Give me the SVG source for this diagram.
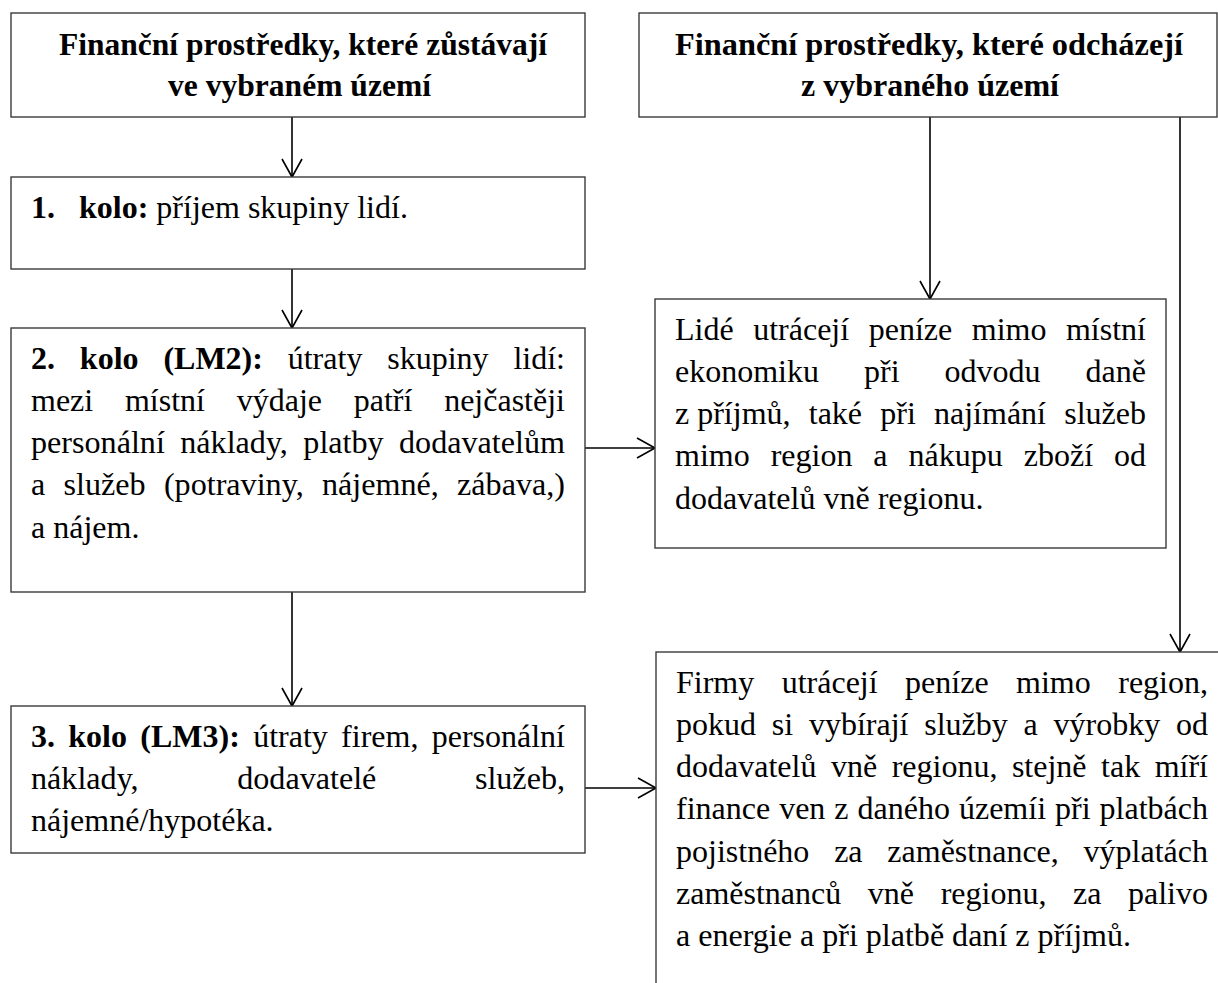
<svg xmlns="http://www.w3.org/2000/svg" width="1218" height="983" viewBox="0 0 1218 983">
  <style>
    .box { fill: #fff; stroke: #3a3a3a; stroke-width: 1.4; }
    .con { fill: none; stroke: #000; stroke-width: 1.6; marker-end: url(#arr); }
    .t { font-family: "Liberation Serif", "Times New Roman", serif; font-size: 32px; fill: #000; }
    .b { font-weight: bold; }
  </style>
  <defs>
    <marker id="arr" markerUnits="userSpaceOnUse" markerWidth="24" markerHeight="24" viewBox="-20 -12 24 24" refX="0" refY="0" orient="auto">
      <path d="M-18,-10 L0,0 L-18,10" fill="none" stroke="#000" stroke-width="1.6"/>
    </marker>
  </defs>
  <rect width="1218" height="983" fill="#fff"/>

  <!-- connectors -->
  <g id="connectors">
    <line class="con" x1="292" y1="117" x2="292" y2="177"/>
    <line class="con" x1="292" y1="269" x2="292" y2="328"/>
    <line class="con" x1="292" y1="592" x2="292" y2="706"/>
    <line class="con" x1="930" y1="117" x2="930" y2="299"/>
    <line class="con" x1="1180" y1="117" x2="1180" y2="652"/>
    <line class="con" x1="585" y1="448" x2="655" y2="448"/>
    <line class="con" x1="585" y1="788" x2="656" y2="788"/>
  </g>

  <!-- money staying in the area -->
  <g id="stay">
    <rect class="box" x="11" y="13" width="574" height="104"/>
    <text class="t b" x="59" y="55" textLength="488" lengthAdjust="spacingAndGlyphs">Finanční prostředky, které zůstávají</text>
    <text class="t b" x="168" y="96" textLength="263" lengthAdjust="spacingAndGlyphs">ve vybraném území</text>
  </g>

  <!-- money leaving the area -->
  <g id="leave">
    <rect class="box" x="639" y="13" width="578" height="104"/>
    <text class="t b" x="675" y="55" textLength="508" lengthAdjust="spacingAndGlyphs">Finanční prostředky, které odcházejí</text>
    <text class="t b" x="801" y="96" textLength="258" lengthAdjust="spacingAndGlyphs">z vybraného území</text>
  </g>

  <!-- round 1 -->
  <g id="round1">
    <rect class="box" x="11" y="177" width="574" height="92"/>
    <text class="t b" x="31" y="217.5">1.</text>
    <text class="t" x="79" y="217.5" textLength="328.9" lengthAdjust="spacingAndGlyphs"><tspan class="b">kolo:</tspan> příjem skupiny lidí.</text>
  </g>

  <!-- round 2 -->
  <g id="round2">
    <rect class="box" x="11" y="328" width="574" height="264"/>
    <text class="t" x="31" y="368.5" textLength="534" lengthAdjust="spacingAndGlyphs" word-spacing="16.84"><tspan class="b">2. kolo (LM2):</tspan> útraty skupiny lidí:</text>
    <text class="t" x="31" y="410.8" textLength="534" lengthAdjust="spacingAndGlyphs" word-spacing="23.73">mezi místní výdaje patří nejčastěji</text>
    <text class="t" x="31" y="453.1" textLength="534" lengthAdjust="spacingAndGlyphs" word-spacing="7.36">personální náklady, platby dodavatelům</text>
    <text class="t" x="31" y="495.4" textLength="534" lengthAdjust="spacingAndGlyphs" word-spacing="10.2">a služeb (potraviny, nájemné, zábava,)</text>
    <text class="t" x="31" y="537.7" textLength="108.4" lengthAdjust="spacingAndGlyphs">a nájem.</text>
  </g>

  <!-- round 3 -->
  <g id="round3">
    <rect class="box" x="11" y="706" width="574" height="147"/>
    <text class="t" x="31" y="746.5" textLength="534" lengthAdjust="spacingAndGlyphs" word-spacing="5.3"><tspan class="b">3. kolo (LM3):</tspan> útraty firem, personální</text>
    <text class="t" x="31" y="788.8" textLength="534" lengthAdjust="spacingAndGlyphs" word-spacing="90.15">náklady, dodavatelé služeb,</text>
    <text class="t" x="31" y="831.1" textLength="242.6" lengthAdjust="spacingAndGlyphs">nájemné/hypotéka.</text>
  </g>

  <!-- people spending outside -->
  <g id="people">
    <rect class="box" x="655" y="299" width="511" height="249"/>
    <text class="t" x="675" y="339.5" textLength="471" lengthAdjust="spacingAndGlyphs" word-spacing="11.53">Lidé utrácejí peníze mimo místní</text>
    <text class="t" x="675" y="381.8" textLength="471" lengthAdjust="spacingAndGlyphs" word-spacing="37">ekonomiku při odvodu daně</text>
    <text class="t" x="675" y="424.1" textLength="471" lengthAdjust="spacingAndGlyphs" word-spacing="10.2"><tspan word-spacing="0">z příjmů,</tspan> také při najímání služeb</text>
    <text class="t" x="675" y="466.4" textLength="471" lengthAdjust="spacingAndGlyphs" word-spacing="12.96">mimo region a nákupu zboží od</text>
    <text class="t" x="675" y="508.7" textLength="308.4" lengthAdjust="spacingAndGlyphs">dodavatelů vně regionu.</text>
  </g>

  <!-- firms spending outside -->
  <g id="firms">
    <rect class="box" x="656" y="652" width="590" height="360"/>
    <text class="t" x="676" y="692.5" textLength="532" lengthAdjust="spacingAndGlyphs" word-spacing="19.45">Firmy utrácejí peníze mimo region,</text>
    <text class="t" x="676" y="734.8" textLength="532" lengthAdjust="spacingAndGlyphs" word-spacing="7.78">pokud si vybírají služby a výrobky od</text>
    <text class="t" x="676" y="777.1" textLength="532" lengthAdjust="spacingAndGlyphs" word-spacing="6.5">dodavatelů vně regionu, stejně tak míří</text>
    <text class="t" x="676" y="819.4" textLength="532" lengthAdjust="spacingAndGlyphs" word-spacing="0.98">finance ven z daného územíi při platbách</text>
    <text class="t" x="676" y="861.7" textLength="532" lengthAdjust="spacingAndGlyphs" word-spacing="16.77">pojistného za zaměstnance, výplatách</text>
    <text class="t" x="676" y="904" textLength="532" lengthAdjust="spacingAndGlyphs" word-spacing="18.58">zaměstnanců vně regionu, za palivo</text>
    <text class="t" x="676" y="946.3" textLength="455" lengthAdjust="spacingAndGlyphs">a energie a při platbě daní z příjmů.</text>
  </g>
</svg>
